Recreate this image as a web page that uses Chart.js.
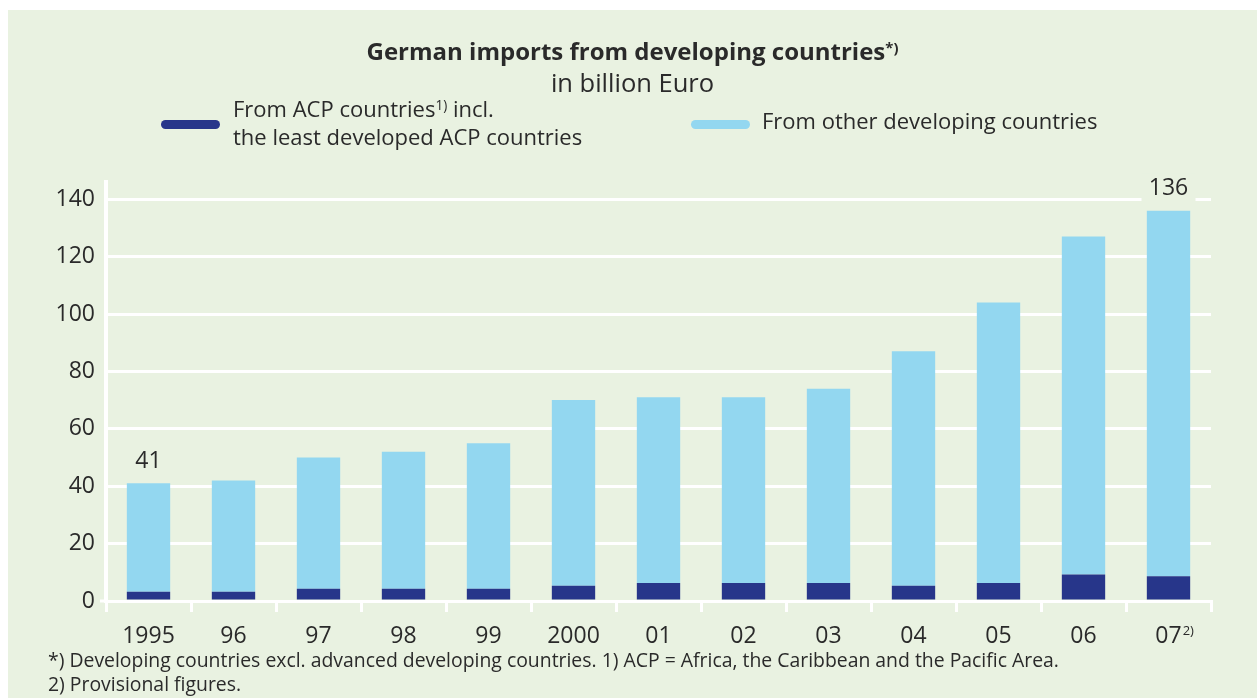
<!DOCTYPE html>
<html>
<head>
<meta charset="utf-8">
<script src="https://cdn.jsdelivr.net/npm/chart.js@4.4.1/dist/chart.umd.min.js"></script>
<style>
  html, body { margin: 0; padding: 0; background: #ffffff; }
  #wrap { position: relative; width: 1257px; height: 698px; overflow: hidden; font-family: 'Open Sans', sans-serif; color: #2a2a2a; }
  #panel { position: absolute; left: 8px; top: 10px; right: 0; bottom: 0; background: #e9f2e1; }
  #chart { position: absolute; left: 0; top: 0; }
  .txt { position: absolute; white-space: nowrap; line-height: 1.2; }
  .title { left: 8px; width: 1249px; text-align: center; font-weight: bold; font-size: 24px; top: 37px; }
  .subtitle { left: 8px; width: 1249px; text-align: center; font-size: 25.5px; top: 67px; }
  .legend-text { font-size: 22px; line-height: 27.7px; }
  .swatch { position: absolute; height: 9px; width: 59px; border-radius: 4.5px; }
  .note { font-size: 19.4px; left: 48px; }
  sup { font-size: 0.62em; vertical-align: 0.5em; line-height: 0; }
</style>
</head>
<body>
<div id="wrap">
  <div id="panel"></div>
  <canvas id="chart" width="1257" height="698"></canvas>
  <div class="txt title">German imports from developing countries<sup>*)</sup></div>
  <div class="txt subtitle">in billion Euro</div>
  <div id="legend"></div>
  <div class="txt note" style="top:648px">*) Developing countries excl. advanced developing countries. 1) ACP = Africa, the Caribbean and the Pacific Area.</div>
  <div class="txt note" style="top:672px">2) Provisional figures.</div>
</div>
<script>
// Years on the category axis (two-digit after 1995/2000, as printed)
const years = ['1995', '96', '97', '98', '99', '2000', '01', '02', '03', '04', '05', '06', '07'];
// Footnote marks attached to some year labels
const yearNotes = ['', '', '', '', '', '', '', '', '', '', '', '', '2)'];

// Imports in billion Euro
const acp   = [3.2, 3.2, 4.3, 4.3, 4.3, 5.3, 6.3, 6.3, 6.3, 5.3, 6.3, 9.2, 8.6];
const other = [37.8, 38.8, 45.7, 47.7, 50.7, 64.7, 64.7, 64.7, 67.7, 81.7, 97.7, 117.8, 127.4];

// Years whose total is written above the bar
const totalYears = ['1995', '07'];

// Value axis: grid every 10, labels every 20
const yGridTicks  = [0, 10, 20, 30, 40, 50, 60, 70, 80, 90, 100, 110, 120, 130, 140];
const yLabelTicks = [0, 20, 40, 60, 80, 100, 120, 140];

const seriesNames = [
  ['From ACP countries', '1)', ' incl.', 'the least developed ACP countries'],
  ['From other developing countries']
];

const FONT = 'Open Sans';
const BG = '#e9f2e1';
const TEXT = '#2a2a2a';
const DARK = '#27368a';
const LIGHT = '#93d7f0';

// Legend built from the series definitions
(function buildLegend() {
  const lg = document.getElementById('legend');
  lg.innerHTML =
    '<div class="swatch" style="left:161px;top:120px;background:' + DARK + '"></div>' +
    '<div class="txt legend-text" style="left:233px;top:95px">' + seriesNames[0][0] + '<sup>' + seriesNames[0][1] + '</sup>' + seriesNames[0][2] + '<br>' + seriesNames[0][3] + '</div>' +
    '<div class="swatch" style="left:691px;top:120px;background:' + LIGHT + '"></div>' +
    '<div class="txt legend-text" style="left:762px;top:107px">' + seriesNames[1][0] + '</div>';
})();

// Totals written above selected bars, on a patch of panel colour
const totalLabels = {
  id: 'totalLabels',
  afterDatasetsDraw(chart) {
    const ctx = chart.ctx;
    const meta = chart.getDatasetMeta(1);
    const yScale = chart.scales.y;
    ctx.save();
    totalYears.forEach(yr => {
      const i = years.indexOf(yr);
      const total = acp[i] + other[i];
      const x = meta.data[i].x;
      const cy = yScale.getPixelForValue(total) - 23;
      ctx.fillStyle = BG;
      ctx.fillRect(x - 27, cy - 14, 54, 30);
      ctx.fillStyle = TEXT;
      ctx.font = '23px "' + FONT + '"';
      ctx.textAlign = 'center';
      ctx.textBaseline = 'middle';
      ctx.fillText(String(Math.round(total)), x, cy + 1);
    });
    ctx.restore();
  }
};

// Short extension of the base line left of the value axis, and footnote marks on year labels
const axisExtras = {
  id: 'axisExtras',
  afterDraw(chart) {
    const ctx = chart.ctx;
    const xs = chart.scales.x;
    const y0 = chart.scales.y.getPixelForValue(0);
    ctx.save();
    ctx.strokeStyle = '#ffffff';
    ctx.lineWidth = 3;
    ctx.beginPath();
    ctx.moveTo(chart.chartArea.left - 6, y0);
    ctx.lineTo(chart.chartArea.left, y0);
    ctx.stroke();
    yearNotes.forEach((note, i) => {
      if (!note) return;
      ctx.font = '23px "' + FONT + '"';
      const w = ctx.measureText(years[i]).width;
      const x = xs.getPixelForValue(i) + w / 2 + 1;
      ctx.font = '13px "' + FONT + '"';
      ctx.fillStyle = TEXT;
      ctx.textAlign = 'left';
      ctx.textBaseline = 'top';
      ctx.fillText(note, x, 625);
    });
    ctx.restore();
  }
};

new Chart(document.getElementById('chart'), {
  type: 'bar',
  data: {
    labels: years,
    datasets: [
      { label: seriesNames[0][0], data: acp, backgroundColor: DARK },
      { label: seriesNames[1][0], data: other, backgroundColor: LIGHT }
    ]
  },
  options: {
    responsive: false,
    animation: false,
    devicePixelRatio: 1,
    datasets: { bar: { barPercentage: 0.51, categoryPercentage: 1 } },
    layout: { padding: { top: 182, right: 46, left: 0, bottom: 0 } },
    plugins: { legend: { display: false }, title: { display: false }, tooltip: { enabled: false } },
    scales: {
      x: {
        stacked: true,
        z: 1,
        border: { display: true, color: '#ffffff', width: 3 },
        grid: { drawOnChartArea: false, drawTicks: true, color: '#ffffff', lineWidth: 3, tickLength: 11, offset: true },
        ticks: { color: TEXT, font: { family: FONT, size: 23 }, padding: 11, maxRotation: 0, autoSkip: false },
        afterFit(s) { s.height = 97; }
      },
      y: {
        stacked: true,
        min: 0,
        max: 146,
        border: { display: true, color: '#ffffff', width: 4 },
        grid: { color: '#ffffff', lineWidth: 3, drawTicks: false },
        ticks: {
          color: TEXT,
          font: { family: FONT, size: 23 },
          padding: 11,
          callback: v => yLabelTicks.includes(v) ? String(v) : ''
        },
        afterBuildTicks(s) { s.ticks = yGridTicks.map(v => ({ value: v })); },
        afterFit(s) { s.width = 106; }
      }
    }
  },
  plugins: [totalLabels, axisExtras]
});
</script>
</body>
</html>
